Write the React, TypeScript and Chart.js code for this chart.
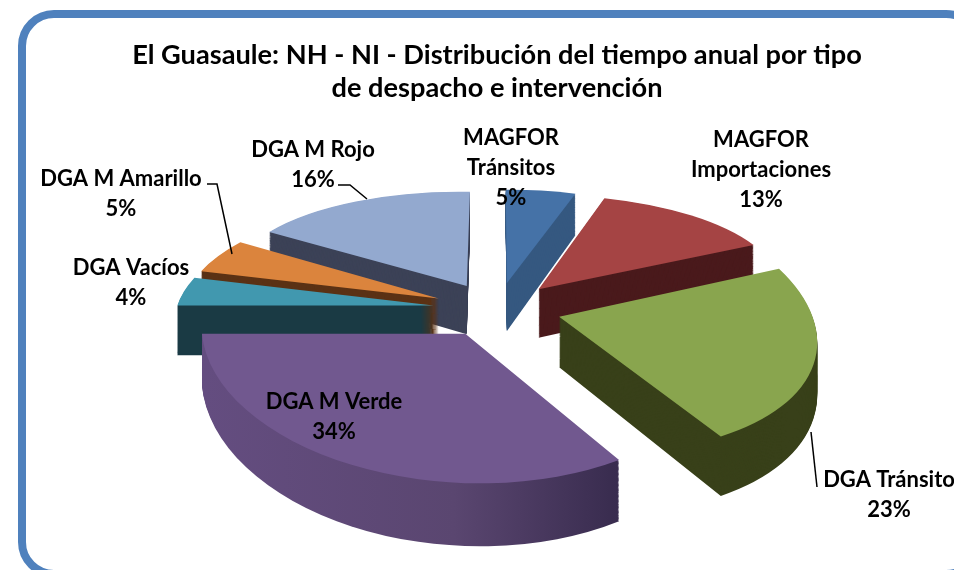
import React, { useEffect, useRef } from "react";
import { Chart, registerables } from "chart.js";

Chart.register(...registerables);

const categories = [
  "MAGFOR Tránsitos",
  "MAGFOR Importaciones",
  "DGA Tránsito",
  "DGA M Verde",
  "DGA Vacíos",
  "DGA M Amarillo",
  "DGA M Rojo",
];
const shares = [5, 13, 23, 34, 4, 5, 16];
const titleLines = [
  "El Guasaule: NH - NI - Distribución del tiempo anual por tipo",
  "de despacho e intervención",
];
const topColors = ["#4572a7", "#a54444", "#89a54e", "#71588f", "#4198af", "#db843d", "#93a9cf"];
const sideColors = ["#355880", "#4a1a1c", "#384019", "#2d2340", "#1a3a45", "#5b3215", "#3c4257"];

// Label layout: text lines, centre x, first baseline y
const labelLines = [
  ["MAGFOR", "Tránsitos", "5%"],
  ["MAGFOR", "Importaciones", "13%"],
  ["DGA Tránsito", "23%"],
  ["DGA M Verde", "34%"],
  ["DGA Vacíos", "4%"],
  ["DGA M Amarillo", "5%"],
  ["DGA M Rojo", "16%"],
];
const labelCentreX = [511, 761, 889, 334, 131, 121, 313];
const labelBaseY = [145, 147, 487, 409, 275, 186, 157];
const leaders: number[][][] = [
  [],
  [],
  [[811, 432], [817, 487]],
  [],
  [],
  [[207, 184], [217, 184], [232, 254]],
  [[338, 185], [350, 185], [367, 199]],
];

// Projection of the pie's plane on to the screen
const projection = { cx: 497, cy: 309, fx: 257, fy: 118, kx: 0.12, ky: 0.175, height: 50, explodeX: 0.25, explodeY: 0.23 };

function project(X: number, Y: number, z: number) {
  const wx = 1 - projection.kx * Y;
  const wy = 1 - projection.ky * Y;
  return {
    x: projection.cx + (projection.fx * X) / wx,
    y: projection.cy + (projection.fy * Y + z) / wy,
  };
}

const explodedArcs = {
  id: "explodedArcs",
  beforeDatasetDraw(chart: any) {
    const { ctx } = chart;
    const arcs = chart.getDatasetMeta(0).data as any[];
    const slices = arcs.map((arc, i) => {
      const mid = (arc.startAngle + arc.endAngle) / 2;
      const ox = Math.cos(mid) * projection.explodeX;
      const oy = Math.sin(mid) * projection.explodeY;
      return { arc, i, ox, oy, apexY: project(ox, oy, 0).y };
    });
    slices.sort((p, q) => p.apexY - q.apexY);

    const drawLayer = (s: any, z: number, color: any) => {
      const { arc, ox, oy } = s;
      const u0 = Math.cos(arc.startAngle), v0 = Math.sin(arc.startAngle);
      const u1 = Math.cos(arc.endAngle), v1 = Math.sin(arc.endAngle);
      const A = project(ox, oy, z);
      const P = project(ox + u0, oy + v0, z);
      const Q = project(ox + u1, oy + v1, z);
      const det = u0 * v1 - u1 * v0;
      const a = ((P.x - A.x) * v1 - (Q.x - A.x) * v0) / det;
      const b = (u0 * (Q.x - A.x) - u1 * (P.x - A.x)) / det;
      const c = ((P.y - A.y) * v1 - (Q.y - A.y) * v0) / det;
      const d = (u0 * (Q.y - A.y) - u1 * (P.y - A.y)) / det;
      const R = arc.outerRadius;
      const saved = arc.options;
      arc.options = { ...saved, backgroundColor: color, borderWidth: 0, offset: 0 };
      ctx.save();
      ctx.transform(a / R, c / R, b / R, d / R, A.x - (a * arc.x + b * arc.y) / R, A.y - (c * arc.x + d * arc.y) / R);
      arc.draw(ctx);
      ctx.restore();
      arc.options = saved;
    };

    for (const s of slices) {
      let side: any = sideColors[s.i];
      if (categories[s.i] === "DGA M Verde") {
        const R = s.arc.outerRadius;
        side = ctx.createLinearGradient(s.arc.x - R, 0, s.arc.x + R, 0);
        side.addColorStop(0, "#644d80");
        side.addColorStop(0.45, "#5a4670");
        side.addColorStop(0.75, "#3a2d50");
        side.addColorStop(1, "#2d2340");
      }
      for (let z = projection.height; z >= 1; z -= 1) drawLayer(s, z, side);
      drawLayer(s, 0, topColors[s.i]);
    }
    return false;
  },
  afterDatasetsDraw(chart: any) {
    const { ctx } = chart;
    ctx.save();
    ctx.strokeStyle = "#000";
    ctx.lineWidth = 1.5;
    for (const path of leaders) {
      if (!path.length) continue;
      ctx.beginPath();
      path.forEach(([x, y], i) => (i ? ctx.lineTo(x, y) : ctx.moveTo(x, y)));
      ctx.stroke();
    }
    ctx.fillStyle = "#000";
    ctx.font = "bold 22px Lato";
    ctx.textAlign = "center";
    ctx.textBaseline = "alphabetic";
    labelLines.forEach((lines, i) => {
      lines.forEach((line, j) => ctx.fillText(line, labelCentreX[i], labelBaseY[i] + j * 30));
    });
    ctx.restore();
  },
};

export default function App() {
  const ref = useRef<HTMLCanvasElement>(null);
  useEffect(() => {
    const chart = new Chart(ref.current!, {
      type: "pie",
      data: {
        labels: categories,
        datasets: [{ data: shares, backgroundColor: topColors, borderWidth: 0 }],
      },
      options: {
        responsive: false,
        animation: false,
        layout: { padding: { left: 40, top: 39 } },
        plugins: {
          legend: { display: false },
          tooltip: { enabled: false },
          title: {
            display: true,
            text: titleLines,
            color: "#000",
            font: { family: "Lato", weight: "bold", size: 27.2, lineHeight: 1.21 },
            padding: { top: 0, bottom: 10 },
          },
        },
      },
      plugins: [explodedArcs],
    });
    return () => chart.destroy();
  }, []);
  return (
    <div style={{ position: "fixed", inset: 0, overflow: "hidden", background: "#fff" }}>
      <div
        style={{
          position: "absolute",
          left: 18,
          top: 10,
          width: 964,
          height: 568,
          boxSizing: "border-box",
          border: "8px solid #4f81bd",
          borderRadius: 36,
        }}
      />
      <canvas ref={ref} width={954} height={570} style={{ position: "absolute", left: 0, top: 0 }} />
    </div>
  );
}
